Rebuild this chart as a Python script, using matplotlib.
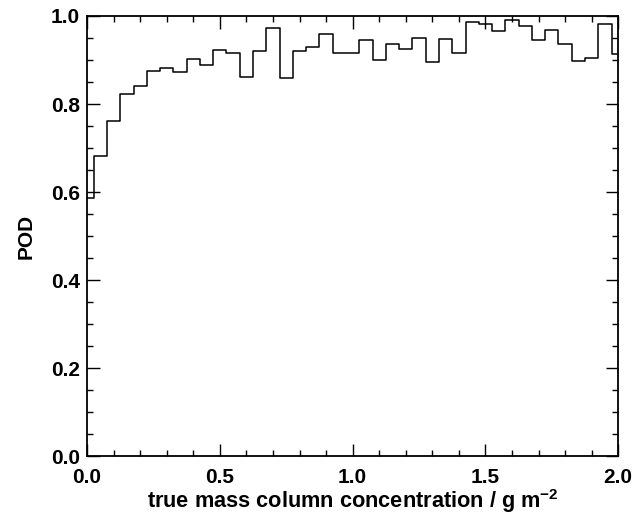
import numpy as np
import matplotlib
matplotlib.use("Agg")
import matplotlib.pyplot as plt
from matplotlib.ticker import MultipleLocator

# bin centres (g m-2) and probability of detection per bin
conc = np.round(np.arange(0.0, 2.0001, 0.05), 3)
pod = [0.586, 0.683, 0.761, 0.823, 0.841, 0.874, 0.881, 0.873, 0.903, 0.889,
       0.923, 0.917, 0.861, 0.920, 0.973, 0.860, 0.920, 0.929, 0.960, 0.916,
       0.917, 0.945, 0.900, 0.937, 0.925, 0.949, 0.895, 0.947, 0.915, 0.987,
       0.981, 0.965, 0.992, 0.977, 0.945, 0.969, 0.937, 0.897, 0.905, 0.981,
       0.914]

plt.rcParams['font.family'] = ['Liberation Sans', 'DejaVu Sans']
plt.rcParams['font.weight'] = 'bold'
plt.rcParams['mathtext.fontset'] = 'custom'
plt.rcParams['mathtext.rm'] = 'Liberation Sans:bold'
plt.rcParams['mathtext.bf'] = 'Liberation Sans:bold'

fig = plt.figure(figsize=(6.4, 5.16), dpi=100)
ax = fig.add_axes([0.136, 0.116, 0.83, 0.853])

ax.step(conc, pod, where='mid', color='black', linewidth=1.1)

ax.set_xlim(0.0, 2.0)
ax.set_ylim(0.0, 1.0)
ax.xaxis.set_major_locator(MultipleLocator(0.5))
ax.xaxis.set_minor_locator(MultipleLocator(0.1))
ax.yaxis.set_major_locator(MultipleLocator(0.2))
ax.yaxis.set_minor_locator(MultipleLocator(0.05))
ax.xaxis.set_major_formatter(plt.FormatStrFormatter('%.1f'))
ax.yaxis.set_major_formatter(plt.FormatStrFormatter('%.1f'))

ax.tick_params(which='both', direction='in', top=True, right=True, width=1.0)
ax.tick_params(which='major', length=9, labelsize=15)
ax.tick_params(axis='x', which='major', pad=8.5)
ax.tick_params(axis='y', which='major', pad=5)
ax.tick_params(which='minor', length=4.5)
for s in ax.spines.values():
    s.set_linewidth(1.3)

ax.set_xlabel('true mass column concentration / g m$^{\\mathbf{-2}}$',
              fontsize=15.7, fontweight='bold', labelpad=0)
ax.set_ylabel('POD', fontsize=15, fontweight='bold', labelpad=11)

fig.savefig('out.png', dpi=100)
